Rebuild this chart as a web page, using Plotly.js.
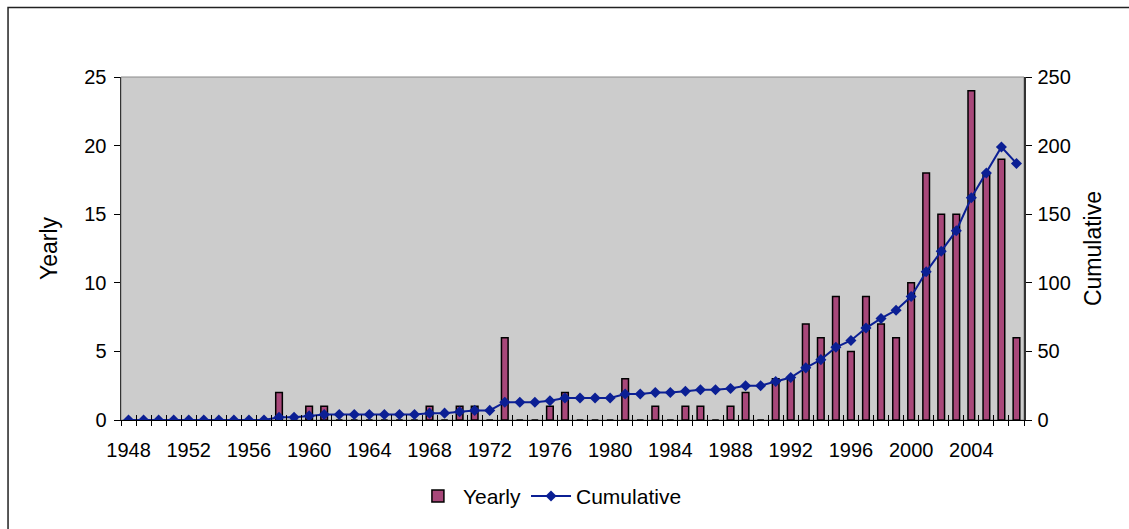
<!DOCTYPE html>
<html>
<head>
<meta charset="utf-8">
<script src="https://cdn.plot.ly/plotly-3.0.1.min.js"></script>
<style>
  html, body { margin: 0; padding: 0; background: #ffffff; }
  #chart { width: 1129px; height: 529px; }
</style>
</head>
<body>
<div id="chart"></div>
<script>
var years = [1948,1949,1950,1951,1952,1953,1954,1955,1956,1957,
             1958,1959,1960,1961,1962,1963,1964,1965,1966,1967,
             1968,1969,1970,1971,1972,1973,1974,1975,1976,1977,
             1978,1979,1980,1981,1982,1983,1984,1985,1986,1987,
             1988,1989,1990,1991,1992,1993,1994,1995,1996,1997,
             1998,1999,2000,2001,2002,2003,2004,2005,2006,2007];

var yearly = [0,0,0,0,0,0,0,0,0,0,
              2,0,1,1,0,0,0,0,0,0,
              1,0,1,1,0,6,0,0,1,2,
              0,0,0,3,0,1,0,1,1,0,
              1,2,0,3,3,7,6,9,5,9,
              7,6,10,18,15,15,24,18,19,6];

var cumulative = [0,0,0,0,0,0,0,0,0,0,
                  2,2,3,4,4,4,4,4,4,4,
                  5,5,6,7,7,13,13,13,14,16,
                  16,16,16,19,19,20,20,21,22,22,
                  23,25,25,28,31,38,44,53,58,67,
                  74,80,90,108,123,138,162,180,199,187];

var xTickLabels = [1948,1952,1956,1960,1964,1968,1972,1976,1980,1984,1988,1992,1996,2000,2004];
var leftTicks = [0,5,10,15,20,25];
var rightTicks = [0,50,100,150,200,250];

var FONT = "Liberation Sans, Arial, sans-serif";

var traces = [
  {
    type: 'bar',
    name: 'Yearly',
    x: years,
    y: yearly,
    width: 0.44,
    marker: { color: '#a8487a', line: { color: '#000000', width: 1.5 } },
    xaxis: 'x',
    yaxis: 'y'
  },
  {
    type: 'scatter',
    mode: 'lines+markers',
    name: 'Cumulative',
    x: years,
    y: cumulative,
    line: { color: '#0b1f94', width: 2 },
    marker: { symbol: 'diamond', size: 8.5, color: '#0b1f94' },
    xaxis: 'x',
    yaxis: 'y2'
  },
  {
    type: 'scatter',
    mode: 'markers',
    x: [],
    y: [],
    showlegend: false,
    hoverinfo: 'skip',
    xaxis: 'x2',
    yaxis: 'y'
  }
];

var layout = {
  width: 1129,
  height: 529,
  margin: { l: 121, r: 105, t: 77, b: 106, pad: 0 },
  paper_bgcolor: '#ffffff',
  plot_bgcolor: '#cccccc',
  font: { family: FONT, size: 20, color: '#000000' },
  showlegend: true,
  bargap: 0,
  xaxis: {
    type: 'linear',
    range: [1947.5, 2007.5],
    tickmode: 'array',
    tickvals: xTickLabels,
    ticktext: xTickLabels.map(String),
    ticks: '',
    ticklabelstandoff: 12,
    minor: { tick0: 1947.5, dtick: 1, ticks: 'outside', ticklen: 5, tickcolor: '#000000', tickwidth: 1, showgrid: false },
    showgrid: false,
    zeroline: false,
    showline: true,
    linecolor: '#000000',
    linewidth: 1,
    tickfont: { family: FONT, size: 20, color: '#000000' },
    fixedrange: true
  },
  xaxis2: {
    type: 'linear',
    overlaying: 'x',
    anchor: 'y',
    side: 'bottom',
    range: [1947.5, 2007.5],
    tick0: 1947.5,
    dtick: 1,
    ticks: 'inside',
    ticklen: 5,
    tickcolor: '#000000',
    tickwidth: 1,
    showticklabels: false,
    showgrid: false,
    zeroline: false,
    showline: false,
    fixedrange: true
  },
  yaxis: {
    range: [0, 25],
    tickmode: 'array',
    tickvals: leftTicks,
    ticks: 'outside',
    ticklen: 6,
    tickcolor: '#000000',
    ticklabelstandoff: 3,
    showgrid: false,
    zeroline: false,
    showline: true,
    linecolor: '#333333',
    linewidth: 1.5,
    tickfont: { family: FONT, size: 20, color: '#000000' },
    title: { text: 'Yearly', font: { family: FONT, size: 23, color: '#000000' }, standoff: 20 },
    fixedrange: true
  },
  yaxis2: {
    overlaying: 'y',
    side: 'right',
    anchor: 'x',
    range: [0, 250],
    tickmode: 'array',
    tickvals: rightTicks,
    ticks: 'outside',
    ticklen: 6,
    tickcolor: '#000000',
    ticklabelstandoff: 2,
    showgrid: false,
    zeroline: false,
    showline: true,
    linecolor: '#333333',
    linewidth: 1.5,
    tickfont: { family: FONT, size: 20, color: '#000000' },
    title: { text: 'Cumulative', font: { family: FONT, size: 23, color: '#000000' }, standoff: 15 },
    fixedrange: true
  },
  legend: {
    orientation: 'h',
    x: 0.475,
    xanchor: 'center',
    y: -0.2225,
    yanchor: 'middle',
    font: { family: FONT, size: 21, color: '#000000' },
    bgcolor: 'rgba(0,0,0,0)',
    itemwidth: 40,
    tracegroupgap: 0
  },
  shapes: [
    {
      type: 'rect', xref: 'paper', yref: 'paper',
      x0: 0, x1: 1, y0: 0, y1: 1,
      line: { color: '#8a8a8a', width: 1 },
      fillcolor: 'rgba(0,0,0,0)',
      layer: 'below'
    },
    {
      type: 'rect', xref: 'paper', yref: 'paper',
      x0: -0.1251, x1: 1.2, y0: -0.6, y1: 1.2023,
      line: { color: '#222222', width: 1.5 },
      fillcolor: 'rgba(0,0,0,0)',
      layer: 'below'
    }
  ]
};

Plotly.newPlot('chart', traces, layout, { displayModeBar: false, staticPlot: true });
</script>
</body>
</html>
